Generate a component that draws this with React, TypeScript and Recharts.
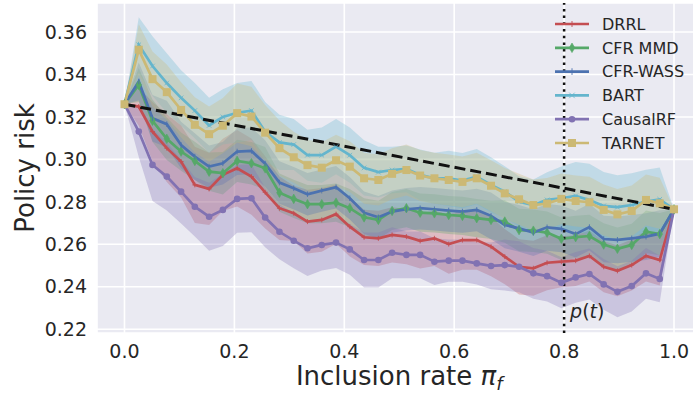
import React from 'react';
import {
  ComposedChart, Line, Area, XAxis, YAxis, CartesianGrid,
  ReferenceLine, ReferenceDot, Legend, Label,
} from 'recharts';

// Inclusion rate grid (40 evaluation points)
const inclusionRate = [
  0, 0.026, 0.051, 0.077, 0.103, 0.128, 0.154, 0.179, 0.205, 0.231,
  0.256, 0.282, 0.308, 0.333, 0.359, 0.385, 0.41, 0.436, 0.462, 0.487,
  0.513, 0.538, 0.564, 0.59, 0.615, 0.641, 0.667, 0.692, 0.718, 0.744,
  0.769, 0.795, 0.821, 0.846, 0.872, 0.897, 0.923, 0.949, 0.974, 1.0,
];

const drrl = [
  0.326, 0.3249, 0.3131, 0.3053, 0.299, 0.288, 0.2861, 0.2927, 0.2958, 0.2919,
  0.2845, 0.277, 0.2746, 0.2707, 0.2715, 0.2742, 0.2683, 0.2633, 0.2628, 0.2644,
  0.2636, 0.2616, 0.2628, 0.2601, 0.262, 0.262, 0.2589, 0.2542, 0.2494, 0.2487,
  0.2513, 0.2518, 0.2523, 0.2545, 0.2494, 0.2475, 0.2502, 0.2545, 0.2526, 0.2765,
];
const drrlErr = [
  0, 0.009, 0.014, 0.016, 0.017, 0.018, 0.017, 0.017, 0.018, 0.018,
  0.017, 0.015, 0.013, 0.015, 0.015, 0.014, 0.014, 0.013, 0.013, 0.013,
  0.013, 0.013, 0.013, 0.014, 0.014, 0.014, 0.014, 0.013, 0.013, 0.013,
  0.013, 0.012, 0.012, 0.012, 0.012, 0.012, 0.012, 0.012, 0.012, 0,
];

const cfrMmd = [
  0.326, 0.3351, 0.3182, 0.3097, 0.3037, 0.2993, 0.2942, 0.2935, 0.2993, 0.2982,
  0.2958, 0.2843, 0.2814, 0.2789, 0.2789, 0.2796, 0.277, 0.2727, 0.2715, 0.2757,
  0.277, 0.2749, 0.2746, 0.2738, 0.2734, 0.2723, 0.2715, 0.2707, 0.2667, 0.2664,
  0.2655, 0.2626, 0.2634, 0.2639, 0.2599, 0.2579, 0.2597, 0.2659, 0.2648, 0.2765,
];
const cfrMmdErr = [
  0, 0.008, 0.01, 0.01, 0.009, 0.009, 0.009, 0.01, 0.01, 0.01,
  0.01, 0.009, 0.009, 0.009, 0.009, 0.009, 0.009, 0.009, 0.009, 0.009,
  0.009, 0.009, 0.009, 0.009, 0.009, 0.009, 0.009, 0.01, 0.01, 0.01,
  0.01, 0.01, 0.01, 0.01, 0.01, 0.01, 0.01, 0.01, 0.01, 0,
];

const cfrWass = [
  0.326, 0.3367, 0.3194, 0.3166, 0.3068, 0.3013, 0.2966, 0.2982, 0.3037, 0.304,
  0.298, 0.2891, 0.2864, 0.2836, 0.2853, 0.2869, 0.2817, 0.2749, 0.2727, 0.2754,
  0.2765, 0.277, 0.2765, 0.2759, 0.2754, 0.2762, 0.2734, 0.2691, 0.2675, 0.2655,
  0.268, 0.2673, 0.2648, 0.2681, 0.2625, 0.2621, 0.2628, 0.2636, 0.265, 0.2765,
];
const cfrWassErr = [
  0, 0.009, 0.011, 0.011, 0.011, 0.011, 0.01, 0.01, 0.011, 0.011,
  0.011, 0.01, 0.01, 0.01, 0.01, 0.01, 0.01, 0.01, 0.01, 0.01,
  0.01, 0.01, 0.01, 0.01, 0.01, 0.01, 0.011, 0.011, 0.011, 0.011,
  0.011, 0.011, 0.011, 0.011, 0.011, 0.011, 0.011, 0.011, 0.011, 0,
];

const bart = [
  0.326, 0.354, 0.344, 0.336, 0.329, 0.323, 0.316, 0.32, 0.322, 0.323,
  0.313, 0.308, 0.307, 0.302, 0.302, 0.306, 0.302, 0.296, 0.294, 0.295,
  0.2955, 0.2927, 0.2911, 0.2911, 0.29, 0.2919, 0.288, 0.2848, 0.2801, 0.2785,
  0.2809, 0.2817, 0.2828, 0.2809, 0.2781, 0.2775, 0.2785, 0.2801, 0.2812, 0.2765,
];
const bartErr = [
  0, 0.013, 0.014, 0.014, 0.013, 0.013, 0.013, 0.013, 0.014, 0.014,
  0.014, 0.013, 0.012, 0.012, 0.013, 0.013, 0.013, 0.013, 0.012, 0.011,
  0.011, 0.012, 0.012, 0.013, 0.013, 0.013, 0.013, 0.012, 0.012, 0.012,
  0.013, 0.015, 0.016, 0.017, 0.016, 0.015, 0.015, 0.015, 0.015, 0,
];

const causalRF = [
  0.326, 0.3131, 0.2974, 0.2919, 0.2848, 0.2777, 0.273, 0.2762, 0.2814, 0.2817,
  0.2726, 0.2659, 0.2617, 0.2581, 0.2597, 0.2608, 0.2576, 0.2526, 0.2526, 0.256,
  0.255, 0.255, 0.2518, 0.2523, 0.2523, 0.251, 0.2498, 0.2502, 0.2494, 0.2463,
  0.245, 0.2419, 0.2444, 0.246, 0.2411, 0.2376, 0.2403, 0.2463, 0.2437, 0.2765,
];
const causalRFErr = [
  0, 0.012, 0.017, 0.016, 0.015, 0.014, 0.016, 0.017, 0.016, 0.016,
  0.014, 0.013, 0.013, 0.013, 0.012, 0.012, 0.012, 0.013, 0.013, 0.012,
  0.011, 0.011, 0.011, 0.01, 0.01, 0.01, 0.011, 0.012, 0.012, 0.012,
  0.012, 0.012, 0.012, 0.012, 0.012, 0.012, 0.012, 0.012, 0.011, 0,
];

const tarnet = [
  0.326, 0.3517, 0.3378, 0.3317, 0.3233, 0.3163, 0.3119, 0.3159, 0.3218, 0.3202,
  0.3126, 0.3053, 0.301, 0.2973, 0.2961, 0.2996, 0.2966, 0.2911, 0.2903, 0.2932,
  0.295, 0.2924, 0.2911, 0.2903, 0.2894, 0.2911, 0.2876, 0.284, 0.2812, 0.2785,
  0.2792, 0.2814, 0.2804, 0.2798, 0.2762, 0.2741, 0.2757, 0.2809, 0.2793, 0.2765,
];
const tarnetErr = [
  0, 0.012, 0.013, 0.013, 0.013, 0.013, 0.013, 0.013, 0.014, 0.014,
  0.013, 0.013, 0.012, 0.012, 0.012, 0.012, 0.012, 0.012, 0.012, 0.012,
  0.012, 0.012, 0.012, 0.012, 0.012, 0.012, 0.012, 0.012, 0.012, 0.012,
  0.012, 0.012, 0.012, 0.012, 0.012, 0.012, 0.012, 0.012, 0.012, 0,
];

// Baseline (random policy) from start to end risk
const baselineX = [0, 1];
const baselineY = [0.326, 0.2765];

const xTicks = [0, 0.2, 0.4, 0.6, 0.8, 1.0];
const yTicks = [0.22, 0.24, 0.26, 0.28, 0.3, 0.32, 0.34, 0.36];
const treatedShare = 0.8;

type MarkerType = 'plus' | 'thinDiamond' | 'vline' | 'x' | 'circle' | 'square';

const series: { key: string; name: string; color: string; values: number[]; err: number[]; marker: MarkerType }[] = [
  { key: 'drrl', name: 'DRRL', color: '#C44E52', values: drrl, err: drrlErr, marker: 'plus' },
  { key: 'mmd', name: 'CFR MMD', color: '#55A868', values: cfrMmd, err: cfrMmdErr, marker: 'thinDiamond' },
  { key: 'wass', name: 'CFR-WASS', color: '#4C72B0', values: cfrWass, err: cfrWassErr, marker: 'vline' },
  { key: 'bart', name: 'BART', color: '#64B5CD', values: bart, err: bartErr, marker: 'x' },
  { key: 'crf', name: 'CausalRF', color: '#8172B2', values: causalRF, err: causalRFErr, marker: 'circle' },
  { key: 'tarnet', name: 'TARNET', color: '#CCB974', values: tarnet, err: tarnetErr, marker: 'square' },
];

const data = inclusionRate.map((x, i) => {
  const row: Record<string, any> = { x };
  series.forEach((s) => {
    row[s.key] = s.values[i];
    row[s.key + 'Band'] = [s.values[i] - s.err[i], s.values[i] + s.err[i]];
  });
  return row;
});

const baselineData = baselineX.map((x, i) => ({ x, y: baselineY[i] }));

const FONT = 'DejaVu Sans, sans-serif';
const TEXT = '#262626';

function Marker({ type, cx, cy, color, big }: { type: MarkerType; cx: number; cy: number; color: string; big?: boolean }) {
  const k = big ? 1.2 : 1;
  switch (type) {
    case 'plus':
      return <path d={`M${cx - 2.5 * k},${cy}H${cx + 2.5 * k}M${cx},${cy - 2.5 * k}V${cy + 2.5 * k}`} stroke={color} strokeWidth={0.9} fill="none" />;
    case 'thinDiamond':
      return <path d={`M${cx},${cy - 4.8}L${cx + 2.8},${cy}L${cx},${cy + 4.8}L${cx - 2.8},${cy}Z`} fill={color} stroke={color} strokeWidth={0.6} />;
    case 'vline':
      return <path d={`M${cx},${cy - 2.8 * k}V${cy + 2.8 * k}`} stroke={color} strokeWidth={0.9} fill="none" />;
    case 'x':
      return <path d={`M${cx - 2.3 * k},${cy - 2.3 * k}L${cx + 2.3 * k},${cy + 2.3 * k}M${cx - 2.3 * k},${cy + 2.3 * k}L${cx + 2.3 * k},${cy - 2.3 * k}`} stroke={color} strokeWidth={0.8} fill="none" />;
    case 'circle':
      return <circle cx={cx} cy={cy} r={3.3} fill={color} />;
    case 'square':
      return <rect x={cx - 4} y={cy - 4} width={8} height={8} fill={color} />;
  }
  return null;
}

const LegendContent = () => (
  <svg width={140} height={150} style={{ overflow: 'visible' }}>
    {series.map((s, i) => {
      const cy = 14 + i * 23.8;
      return (
        <g key={s.key}>
          <line x1={2} x2={36} y1={cy} y2={cy} stroke={s.color} strokeWidth={2.7} />
          <Marker type={s.marker} cx={19} cy={cy} color={s.color} big />
          <text x={49} y={cy} dy="0.36em" fontSize={16} fill={TEXT} fontFamily={FONT}>{s.name}</text>
        </g>
      );
    })}
  </svg>
);

const XLabel = (props: any) => {
  const vb = props.viewBox || {};
  const cx = vb.x + vb.width / 2;
  return (
    <text x={cx} y={385} textAnchor="middle" fontSize={26} fill={TEXT} fontFamily={FONT}>
      Inclusion rate <tspan fontStyle="italic">π</tspan>
      <tspan fontStyle="italic" fontSize={18} dy={5}>f</tspan>
    </text>
  );
};

const YLabel = (props: any) => {
  const vb = props.viewBox || {};
  const cy = vb.y + vb.height / 2;
  const cx = 25;
  return (
    <text x={cx} y={cy} transform={`rotate(-90, ${cx}, ${cy})`} textAnchor="middle" dy="0.36em" fontSize={26} fill={TEXT} fontFamily={FONT}>
      Policy risk
    </text>
  );
};

const PtLabel = (props: any) => {
  const vb = props.viewBox || {};
  const x = vb.x + (vb.width || 0) / 2 + 6;
  const y = vb.y + (vb.height || 0) / 2;
  return (
    <text x={x} y={y} fontSize={19} fill={TEXT} fontFamily={FONT}>
      <tspan fontStyle="italic">p</tspan>(<tspan fontStyle="italic">t</tspan>)
    </text>
  );
};

export default function App() {
  return (
    <div style={{ position: 'absolute', left: 0, top: 0, width: 693, height: 397, overflow: 'hidden', background: '#fff', fontFamily: FONT }}>
      <ComposedChart width={705} height={397} data={data} margin={{ top: 3, right: 3.5, bottom: 0, left: 0 }}>
        <CartesianGrid fill="#EAEAF2" fillOpacity={1} stroke="#FFFFFF" strokeWidth={1.6} />
        <XAxis
          dataKey="x"
          type="number"
          domain={[-0.05, 1.05]}
          ticks={xTicks}
          tickFormatter={(v: number) => v.toFixed(1)}
          axisLine={false}
          tickLine={false}
          tickSize={0}
          tickMargin={12}
          height={64}
          tick={{ fontSize: 19, fill: TEXT, fontFamily: FONT }}
          allowDataOverflow
        >
          <Label content={<XLabel />} />
        </XAxis>
        <YAxis
          type="number"
          domain={[0.2182, 0.3737]}
          ticks={yTicks}
          tickFormatter={(v: number) => v.toFixed(2)}
          axisLine={false}
          tickLine={false}
          tickSize={0}
          tickMargin={10}
          width={97}
          tick={{ fontSize: 19, fill: TEXT, fontFamily: FONT }}
          allowDataOverflow
        >
          <Label content={<YLabel />} />
        </YAxis>
        <Legend
          layout="horizontal"
          verticalAlign="middle"
          align="center"
          content={<LegendContent />}
          wrapperStyle={{ left: 553, top: 10, width: 140, height: 150 }}
        />
        {series.map((s) => (
          <Area
            key={s.key + 'Band'}
            type="linear"
            dataKey={s.key + 'Band'}
            stroke="none"
            fill={s.color}
            fillOpacity={0.3}
            isAnimationActive={false}
            activeDot={false}
            legendType="none"
          />
        ))}
        {series.map((s) => (
          <Line
            key={s.key}
            type="linear"
            dataKey={s.key}
            name={s.name}
            stroke={s.color}
            strokeWidth={2.7}
            isAnimationActive={false}
            activeDot={false}
            dot={(p: any) => (
              <g key={`${s.key}-${p.index}`}>
                <Marker type={s.marker} cx={p.cx} cy={p.cy} color={s.color} />
              </g>
            )}
          />
        ))}
        <Line
          data={baselineData}
          dataKey="y"
          type="linear"
          stroke="#111111"
          strokeWidth={3}
          strokeDasharray="11 5"
          dot={false}
          activeDot={false}
          isAnimationActive={false}
          legendType="none"
        />
        <ReferenceLine x={treatedShare} stroke="#111111" strokeWidth={2.5} strokeDasharray="2.5 4.2" />
        <ReferenceDot x={treatedShare} y={0.2253} r={1} fill="none" stroke="none" label={<PtLabel />} />
      </ComposedChart>
    </div>
  );
}
